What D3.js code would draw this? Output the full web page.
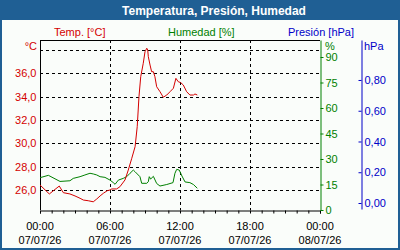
<!DOCTYPE html>
<html><head><meta charset="utf-8">
<script src="https://cdn.jsdelivr.net/npm/d3@7"></script>
<style>html,body{margin:0;padding:0;background:#fff;}svg{display:block;}</style>
</head><body><svg id="c" width="400" height="250"></svg>
<script>
const title = "Temperatura, Presión, Humedad";
const legendLabels = ["Temp. [°C]", "Humedad [%]", "Presión [hPa]"];
const day1 = "07/07/26", day2 = "08/07/26";
const xTickLabels = [["00:00", day1], ["06:00", day1], ["12:00", day1], ["18:00", day1], ["00:00", day2]];
const tempTicks = [26, 28, 30, 32, 34, 36];
const humTicks = [0, 15, 30, 45, 60, 75, 90];
const presTicks = [0, 0.2, 0.4, 0.6, 0.8];

const tempTimes = ["00:00","00:48","01:39","02:00","02:34","03:00","03:26","03:43","04:08","04:34","04:52","05:09","05:26","05:46","06:00","06:09","06:34","06:51","07:17","07:34","07:52","08:09","08:20","08:29","08:38","08:51","09:00","09:09","09:14","09:17","09:26","09:34","09:43","09:51","10:00","10:17","10:34","10:52","11:09","11:26","11:39","11:51","12:04","12:17","12:34","12:51","13:09","13:17","13:29"];
const tempValues = [26.43,25.66,26.34,25.77,25.66,25.49,25.29,25.14,25.08,24.99,25.23,25.49,25.72,25.94,26.0,26.09,26.09,26.28,26.86,27.71,28.72,29.71,31.43,34.0,35.71,36.86,37.85,38.15,38.0,37.43,36.71,36.14,36.14,35.71,34.85,34.43,33.95,34.14,34.43,34.72,35.57,35.28,35.2,35.0,34.43,34.14,34.14,34.23,34.14];

const humTimes = ["00:00","00:43","01:43","02:34","02:51","03:26","03:51","04:17","04:34","04:52","05:09","05:34","06:00","06:17","06:26","06:43","07:08","07:26","07:43","08:00","08:09","08:34","08:43","09:09","09:17","09:22","09:29","09:43","10:00","10:17","10:52","11:24","11:34","11:43","11:56","12:10","12:26","12:51","13:09","13:29"];
const humValues = [19.0,20.4,16.8,17.2,18.6,19.6,20.6,21.6,21.2,20.6,19.6,19.2,17.6,16.1,15.1,17.6,18.6,19.6,21.6,23.5,22.5,19.6,15.7,15.7,16.6,19.6,18.2,19.8,15.6,14.1,15.0,16.1,21.6,23.9,23.5,20.0,16.5,16.1,15.0,12.8];

const RED = "#d40000", GREEN = "#008000", BLUE = "#0000c8", FRAME = "#1f5f94";
const FONT = "Liberation Sans, Arial, sans-serif";

const svg = d3.select("#c");
svg.append("rect").attr("x",0).attr("y",0).attr("width",400).attr("height",250).attr("fill","#fafdfa");
svg.append("rect").attr("x",0).attr("y",0).attr("width",400).attr("height",20).attr("fill",FRAME);
svg.append("rect").attr("x",1).attr("y",1).attr("width",398).attr("height",248).attr("fill","none").attr("stroke",FRAME).attr("stroke-width",2);
svg.append("text").attr("x",214).attr("y",15).attr("text-anchor","middle").attr("fill","#fff")
  .attr("font-family",FONT).attr("font-weight","bold").attr("font-size",12).text(title);

const legendX = [54, 168, 288], legendCol = [RED, GREEN, BLUE];
legendLabels.forEach((t,i) => svg.append("text").attr("x",legendX[i]).attr("y",36).attr("fill",legendCol[i])
  .attr("font-family",FONT).attr("font-size",11).text(t));

const t0 = new Date(2026,6,7,0,0), t1 = new Date(2026,6,8,0,0);
const x = d3.scaleTime().domain([t0,t1]).range([40,320]);
const yT = d3.scaleLinear().domain([26 - 20/11.667, 26 + 150/11.667]).range([210,40]);
const yH = d3.scaleLinear().domain([0,100]).range([210,40]);
const yP = d3.scaleLinear().domain([-0.039,1.06]).range([209,40]);
const parse = s => { const [h,m] = s.split(":").map(Number); return new Date(2026,6,7,h,m); };

// grid
const g = svg.append("g");
[...tempTicks, 38].forEach(v => g.append("line").attr("x1",40).attr("x2",320).attr("y1",Math.round(yT(v))+0.5).attr("y2",Math.round(yT(v))+0.5)
  .attr("stroke","#000").attr("stroke-dasharray","3,3"));
[6,12,18].forEach(h => { const xx = Math.round(x(new Date(2026,6,7,h)))+0.5;
  g.append("line").attr("x1",xx).attr("x2",xx).attr("y1",40).attr("y2",210).attr("stroke","#000").attr("stroke-dasharray","3,3"); });

// frame
g.append("line").attr("x1",40).attr("x2",320).attr("y1",40.5).attr("y2",40.5).attr("stroke","#000");
g.append("line").attr("x1",40.5).attr("x2",40.5).attr("y1",40).attr("y2",210).attr("stroke","#000");

// x axis
const xAxis = d3.axisBottom(x).ticks(d3.timeHour.every(1)).tickSize(3).tickFormat("");
const xg = svg.append("g").attr("transform","translate(0,210.5)").call(xAxis);
xg.select(".domain").attr("stroke","#000");
xg.selectAll(".tick line").attr("stroke","#000");
xTickLabels.forEach((lab,i) => {
  const xx = x(new Date(2026,6,7+ (i===4?1:0), i===4?0:i*6));
  svg.append("text").attr("x",xx).attr("y",230).attr("text-anchor","middle").attr("font-family",FONT).attr("font-size",11).attr("fill","#000").text(lab[0]);
  svg.append("text").attr("x",xx).attr("y",244).attr("text-anchor","middle").attr("font-family",FONT).attr("font-size",11).attr("fill","#000").text(lab[1]);
});

// left temp axis labels
const lg = svg.append("g").attr("transform","translate(40.5,0)").call(d3.axisLeft(yT).tickValues(tempTicks).tickSize(0).tickPadding(4).tickFormat(d => d.toFixed(1).replace(".",",")));
lg.select(".domain").remove();
lg.selectAll("text").attr("fill",RED).attr("font-family",FONT).attr("font-size",11);
svg.append("text").attr("x",37).attr("y",50).attr("text-anchor","end").attr("fill",RED).attr("font-family",FONT).attr("font-size",11).text("°C");

// humidity axis
const hg = svg.append("g").attr("transform","translate(320.5,0)").call(d3.axisRight(yH).tickValues(humTicks).tickSize(3).tickPadding(2).tickSizeOuter(0));
hg.select(".domain").attr("stroke",GREEN);
hg.selectAll(".tick line").attr("stroke",GREEN);
hg.selectAll("text").attr("fill",GREEN).attr("font-family",FONT).attr("font-size",11);
svg.append("text").attr("x",325).attr("y",50).attr("fill",GREEN).attr("font-family",FONT).attr("font-size",11).text("%");

// pressure axis
const pg = svg.append("g").attr("transform","translate(361.5,0)").call(d3.axisLeft(yP).tickValues(presTicks).tickSize(3).tickSizeOuter(0).tickFormat(d => d.toFixed(2).replace(".",",")));
pg.select(".domain").attr("stroke",BLUE);
pg.selectAll(".tick line").attr("stroke",BLUE);
pg.selectAll("text").attr("fill",BLUE).attr("font-family",FONT).attr("font-size",11).attr("text-anchor","start").attr("x",3);
svg.append("text").attr("x",364).attr("y",50).attr("fill",BLUE).attr("font-family",FONT).attr("font-size",11).text("hPa");

// lines
const tempData = tempTimes.map((t,i) => [parse(t), tempValues[i]]);
const humData = humTimes.map((t,i) => [parse(t), humValues[i]]);
svg.append("path").datum(humData).attr("fill","none").attr("stroke",GREEN).attr("stroke-width",1)
  .attr("d", d3.line().x(d => x(d[0])).y(d => yH(d[1])));
svg.append("path").datum(tempData).attr("fill","none").attr("stroke",RED).attr("stroke-width",1)
  .attr("d", d3.line().x(d => x(d[0])).y(d => yT(d[1])));
</script></body></html>
